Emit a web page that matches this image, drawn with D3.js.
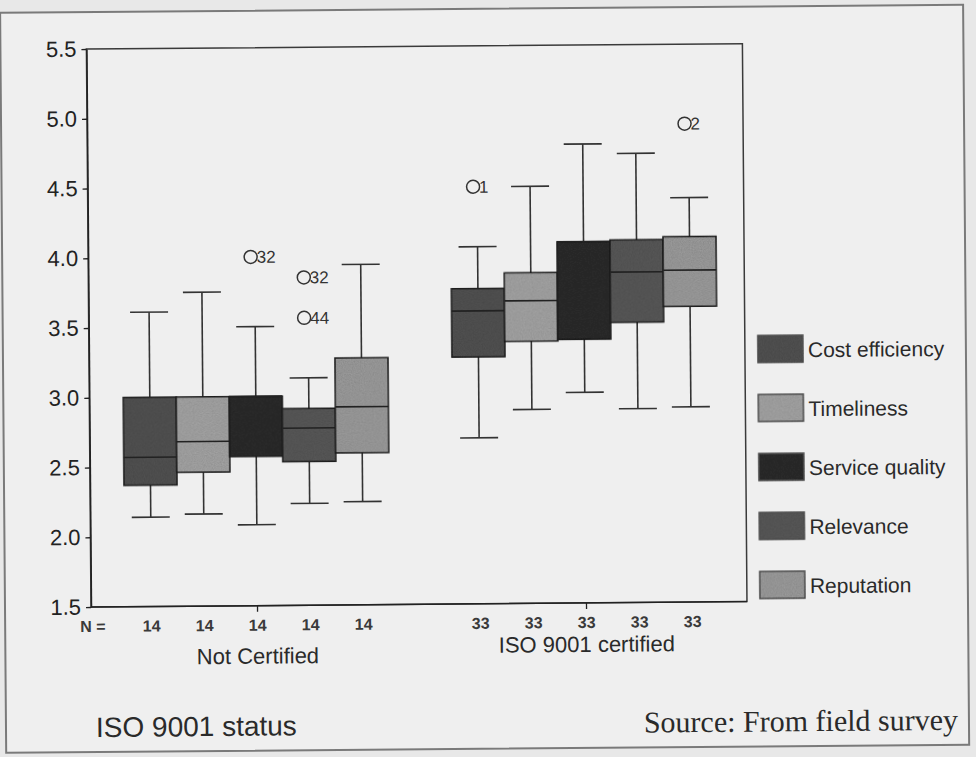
<!DOCTYPE html>
<html>
<head>
<meta charset="utf-8">
<script src="https://cdn.jsdelivr.net/npm/d3@7"></script>
<style>
    body { margin: 0; background: #e8e8e8; }
    svg { display: block; }
</style>
</head>
<body>
<div id="chart"></div>
<script>
// chart data
var groups = ["Not Certified", "ISO 9001 certified"];
var series = ["Cost efficiency", "Timeliness", "Service quality", "Relevance", "Reputation"];
var counts = [14, 33];

// [lower whisker, Q1, median, Q3, upper whisker] per series
var notCertified = [
    [2.14, 2.37, 2.57, 3.00, 3.61],
    [2.16, 2.46, 2.68, 3.00, 3.75],
    [2.08, 2.57, 3.00, 3.00, 3.50],
    [2.23, 2.53, 2.77, 2.91, 3.13],
    [2.24, 2.59, 2.92, 3.27, 3.94]
];
var certified = [
    [2.69, 3.27, 3.60, 3.76, 4.06],
    [2.89, 3.38, 3.67, 3.87, 4.49],
    [3.01, 3.39, 4.09, 4.09, 4.79],
    [2.89, 3.51, 3.87, 4.10, 4.72],
    [2.90, 3.62, 3.88, 4.12, 4.40]
];
var outliers = [
    { group: 0, series: 2, value: 4.00, id: "32" },
    { group: 0, series: 3, value: 3.85, id: "32" },
    { group: 0, series: 3, value: 3.56, id: "44" },
    { group: 1, series: 0, value: 4.49, id: "1" },
    { group: 1, series: 4, value: 4.93, id: "2" }
];
var yTicks = [1.5, 2.0, 2.5, 3.0, 3.5, 4.0, 4.5, 5.0, 5.5];

function init() {
    var w = 976,
        h = 757;
    var left = 91, right = 747, top = 49, bottom = 607;

    var svg = d3
        .select("#chart")
        .append("svg")
        .attr("width", w)
        .attr("height", h)
        .style("font-family", "'Liberation Sans', Arial, sans-serif");

    // the scan is a little tilted
    var g = svg.append("g")
        .attr("transform", "rotate(-0.47," + left + "," + bottom + ")");

    // outer frame of the figure
    g.append("rect")
        .attr("x", 5)
        .attr("y", 12)
        .attr("width", 963)
        .attr("height", 740)
        .attr("fill", "#efefef")
        .attr("stroke", "#7a7a7a")
        .attr("stroke-width", 2);

    var data = [notCertified, certified];

    var xGroup = d3.scaleBand().domain(groups).range([93, 751]);
    var xSeries = d3.scaleBand().domain(series).range([-132.5, 132.5]);
    var yScale = d3.scaleLinear().domain([1.5, 5.5]).range([bottom, top]);

    var colorScale = d3.scaleOrdinal()
        .domain(series)
        .range(["#555555", "#a9a9a9", "#2e2e2e", "#5c5c5c", "#a0a0a0"]);

    function cx(gi, si) {
        return xGroup(groups[gi]) + xGroup.bandwidth() / 2 + xSeries(series[si]) + xSeries.bandwidth() / 2;
    }

    // plot frame
    g.append("rect")
        .attr("x", left)
        .attr("y", top)
        .attr("width", right - left)
        .attr("height", bottom - top)
        .attr("fill", "none")
        .attr("stroke", "#3a3a3a")
        .attr("stroke-width", 1.5);

    // noise for the printed look of the boxes
    var defs = svg.append("defs");
    var f = defs.append("filter").attr("id", "grain");
    f.append("feTurbulence")
        .attr("type", "fractalNoise")
        .attr("baseFrequency", 0.9)
        .attr("numOctaves", 2)
        .attr("result", "noise");
    f.append("feColorMatrix")
        .attr("in", "noise")
        .attr("type", "matrix")
        .attr("values", "0 0 0 0 0  0 0 0 0 0  0 0 0 0 0  0 0 0 0.35 0")
        .attr("result", "dots");
    f.append("feComposite")
        .attr("in", "dots")
        .attr("in2", "SourceGraphic")
        .attr("operator", "in")
        .attr("result", "dotsIn");
    var merge = f.append("feMerge");
    merge.append("feMergeNode").attr("in", "SourceGraphic");
    merge.append("feMergeNode").attr("in", "dotsIn");

    // flatten the boxes
    var boxes = [];
    data.forEach((grp, gi) => {
        grp.forEach((v, si) => {
            boxes.push({ gi: gi, si: si, v: v });
        });
    });

    var capW = 19;
    var boxW = xSeries.bandwidth();

    var bx = g.selectAll(".box")
        .data(boxes)
        .enter()
        .append("g")
        .attr("class", "box");

    // whiskers
    bx.append("line")
        .attr("x1", d => cx(d.gi, d.si))
        .attr("x2", d => cx(d.gi, d.si))
        .attr("y1", d => yScale(d.v[0]))
        .attr("y2", d => yScale(d.v[4]))
        .attr("stroke", "#333")
        .attr("stroke-width", 1.6);

    bx.selectAll(".cap")
        .data(d => [d, d].map((e, i) => ({ x: cx(d.gi, d.si), y: d.v[i * 4] })))
        .enter()
        .append("line")
        .attr("x1", d => d.x - capW)
        .attr("x2", d => d.x + capW)
        .attr("y1", d => yScale(d.y))
        .attr("y2", d => yScale(d.y))
        .attr("stroke", "#333")
        .attr("stroke-width", 1.6);

    bx.append("rect")
        .attr("x", d => cx(d.gi, d.si) - boxW / 2)
        .attr("y", d => yScale(d.v[3]))
        .attr("width", boxW)
        .attr("height", d => yScale(d.v[1]) - yScale(d.v[3]))
        .attr("fill", d => colorScale(series[d.si]))
        .attr("filter", "url(#grain)")
        .attr("stroke", "#222")
        .attr("stroke-width", 1.5);

    // medians
    bx.append("line")
        .attr("x1", d => cx(d.gi, d.si) - boxW / 2)
        .attr("x2", d => cx(d.gi, d.si) + boxW / 2)
        .attr("y1", d => yScale(d.v[2]))
        .attr("y2", d => yScale(d.v[2]))
        .attr("stroke", "#222")
        .attr("stroke-width", 1.6);

    // outliers
    var out = g.selectAll(".outlier")
        .data(outliers)
        .enter()
        .append("g")
        .attr("class", "outlier");

    out.append("circle")
        .attr("cx", d => cx(d.group, d.series) - 4)
        .attr("cy", d => yScale(d.value))
        .attr("r", 6.5)
        .attr("fill", "none")
        .attr("stroke", "#333")
        .attr("stroke-width", 1.5);

    out.append("text")
        .attr("x", d => cx(d.group, d.series) + 2)
        .attr("y", d => yScale(d.value))
        .attr("dy", "0.35em")
        .attr("font-size", "17px")
        .attr("fill", "#333")
        .text(d => d.id);

    // y axis
    var yAxis = d3.axisLeft(yScale)
        .tickValues(yTicks)
        .tickFormat(d3.format(".1f"))
        .tickSize(5)
        .tickSizeOuter(0)
        .tickPadding(5);

    var ya = g.append("g")
        .attr("transform", "translate(" + left + ",0)")
        .call(yAxis);
    ya.select(".domain").attr("stroke", "#222").attr("stroke-width", 1.5);
    ya.selectAll(".tick line").attr("stroke", "#222").attr("stroke-width", 1.3);
    ya.selectAll("text")
        .attr("fill", "#222")
        .attr("font-size", "22px")
        .style("font-family", "'Liberation Sans', Arial, sans-serif");

    // x axis, ticks only at group centres
    var xAxis = d3.axisBottom(xGroup).tickSize(6).tickSizeOuter(0).tickFormat("");
    var xa = g.append("g")
        .attr("transform", "translate(0," + bottom + ")")
        .call(xAxis);
    xa.select(".domain").attr("d", "M" + left + ",0H" + right).attr("stroke", "#222").attr("stroke-width", 1.5);
    xa.selectAll(".tick line").attr("stroke", "#222").attr("stroke-width", 1.3);

    // N = row
    g.append("text")
        .attr("x", 80)
        .attr("y", 632)
        .attr("font-size", "16px")
        .attr("font-weight", "bold")
        .attr("fill", "#3a3a3a")
        .text("N =");

    g.selectAll(".count")
        .data(boxes)
        .enter()
        .append("text")
        .attr("class", "count")
        .attr("x", d => cx(d.gi, d.si))
        .attr("y", 632)
        .attr("text-anchor", "middle")
        .attr("font-size", "16px")
        .attr("font-weight", "bold")
        .attr("fill", "#3a3a3a")
        .text(d => counts[d.gi]);

    // group labels (staggered as in the original)
    g.selectAll(".grp")
        .data(groups)
        .enter()
        .append("text")
        .attr("class", "grp")
        .attr("x", d => xGroup(d) + xGroup.bandwidth() / 2)
        .attr("y", (d, i) => (i % 2 ? 656 : 665))
        .attr("text-anchor", "middle")
        .attr("font-size", "22px")
        .attr("fill", "#2a2a2a")
        .text(d => d);

    // legend
    var legend = g.selectAll(".legend-item")
        .data(series)
        .enter()
        .append("g")
        .attr("class", "legend-item")
        .attr("transform", (d, i) => "translate(760," + (341 + i * 59) + ")");

    legend.append("rect")
        .attr("width", 45)
        .attr("height", 27)
        .attr("fill", d => colorScale(d))
        .attr("filter", "url(#grain)")
        .attr("stroke", "#555")
        .attr("stroke-width", 1.5);

    legend.append("text")
        .attr("x", 50)
        .attr("y", 22)
        .attr("font-size", "21px")
        .attr("fill", "#2a2a2a")
        .text(d => d);

    // bottom captions
    g.append("text")
        .attr("x", 95)
        .attr("y", 737)
        .attr("font-size", "28px")
        .attr("fill", "#2a2a2a")
        .text("ISO 9001 status");

    g.append("text")
        .attr("x", 957)
        .attr("y", 737)
        .attr("text-anchor", "end")
        .attr("font-size", "30px")
        .attr("fill", "#2a2a2a")
        .style("font-family", "'Liberation Serif', 'Times New Roman', serif")
        .text("Source: From field survey");
}

window.onload = init;
</script>
</body>
</html>
